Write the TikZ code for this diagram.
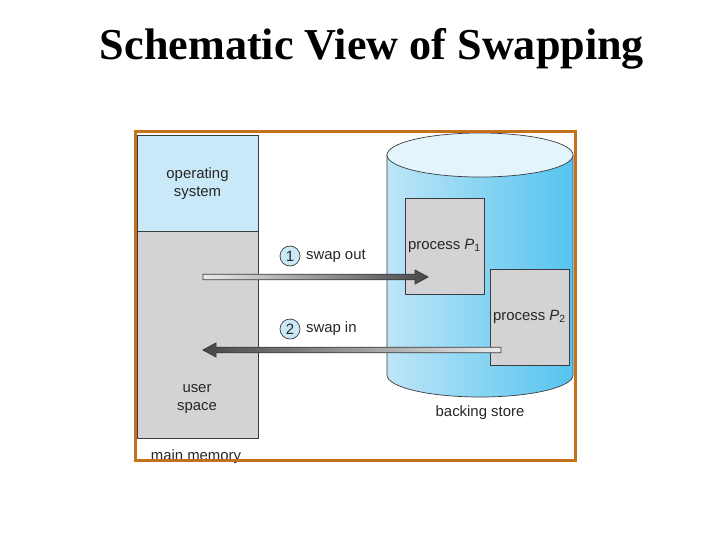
\documentclass[tikz,border=0pt]{standalone}
\usepackage{fontspec}
\setmainfont{Liberation Serif}
\setsansfont{Liberation Sans}
\usetikzlibrary{positioning,calc}

\definecolor{framecol}{HTML}{C4701C}
\definecolor{oscol}{HTML}{CAE9F8}
\definecolor{memgray}{HTML}{D3D3D5}
\definecolor{cylleft}{HTML}{BDE5F7}
\definecolor{cylmid}{HTML}{EAF7FD}
\definecolor{cylright}{HTML}{55C4EF}
\definecolor{cyltop}{HTML}{E2F4FC}
\definecolor{edgecol}{HTML}{3C3C40}

\begin{document}
\begin{tikzpicture}[
    x=0.025cm, y=-0.025cm,
    node distance=0.1cm,
    lbl/.style={font=\sffamily\fontsize{10.6}{12.5}\selectfont, text=black!85, align=center, inner sep=1pt},
    membox/.style={rectangle, draw=edgecol, line width=0.4pt, minimum width=3.025cm, inner sep=0pt},
    procbox/.style={rectangle, draw=edgecol, fill=memgray, line width=0.5pt, minimum width=1.975cm, minimum height=2.4cm, inner sep=0pt, lbl},
    stepnum/.style={circle, draw=edgecol, fill=oscol, line width=0.5pt, minimum size=0.5cm, inner sep=0pt, lbl},
    shaft/.style={draw=edgecol, line width=0.6pt},
]
    \useasboundingbox (0,0) rectangle (720,540);

    % title
    \node[font=\bfseries\fontsize{31.4}{36}\selectfont] (title) at (372,49) {Schematic View of Swapping};

    % main memory column
    \node[membox, fill=oscol, minimum height=2.425cm, lbl] (os) at (197.5,183.5) {operating\\system};
    \node[membox, fill=memgray, minimum height=5.175cm] (user) at (197.5,334.5) {};
    \node[lbl] (userlbl) at (197,399) {user\\space};
    \node[lbl] (mainmem) at (196,457) {main memory};

    % backing store cylinder
    \shade[left color=cylleft, middle color=cylmid, right color=cylright, draw=edgecol, line width=0.5pt]
        (387,155) -- (387,375) arc[start angle=180, end angle=360, x radius=2.325cm, y radius=0.55cm]
        -- (573,155) -- cycle;
    \draw[fill=cyltop, draw=edgecol, line width=0.5pt] (480,155) ellipse [x radius=2.325cm, y radius=0.55cm];
    \node[lbl] (backing) at (480,413) {backing store};

    % processes on the backing store
    \node[procbox] (p1) at (444.5,246) {process \textit{P}\textsubscript{1}};
    \node[procbox] (p2) at (529.5,317) {process \textit{P}\textsubscript{2}};

    % swap out
    \coordinate (outA) at (203,277);
    \coordinate (outB) at (428,277);
    \shade[shaft, left color=black!8, right color=black!72]
        ($(outA)+(0,-2.8)$) -- ($(outB)+(-13,-2.8)$) -- ($(outB)+(-13,-7)$) -- (outB)
        -- ($(outB)+(-13,7)$) -- ($(outB)+(-13,2.8)$) -- ($(outA)+(0,2.8)$) -- cycle;
    \node[stepnum] (one) at (290,256) {1};
    \node[lbl, right=of one] (swapout) {swap out};

    % swap in
    \coordinate (inA) at (501,350);
    \coordinate (inB) at (203,350);
    \shade[shaft, left color=black!72, right color=black!8]
        ($(inA)+(0,-2.8)$) -- ($(inB)+(13,-2.8)$) -- ($(inB)+(13,-7)$) -- (inB)
        -- ($(inB)+(13,7)$) -- ($(inB)+(13,2.8)$) -- ($(inA)+(0,2.8)$) -- cycle;
    \node[stepnum] (two) at (290,329) {2};
    \node[lbl, right=of two] (swapin) {swap in};

    % outer frame
    \draw[framecol, line width=0.075cm] (135.5,131.5) rectangle (575.5,460.5);
\end{tikzpicture}
\end{document}
